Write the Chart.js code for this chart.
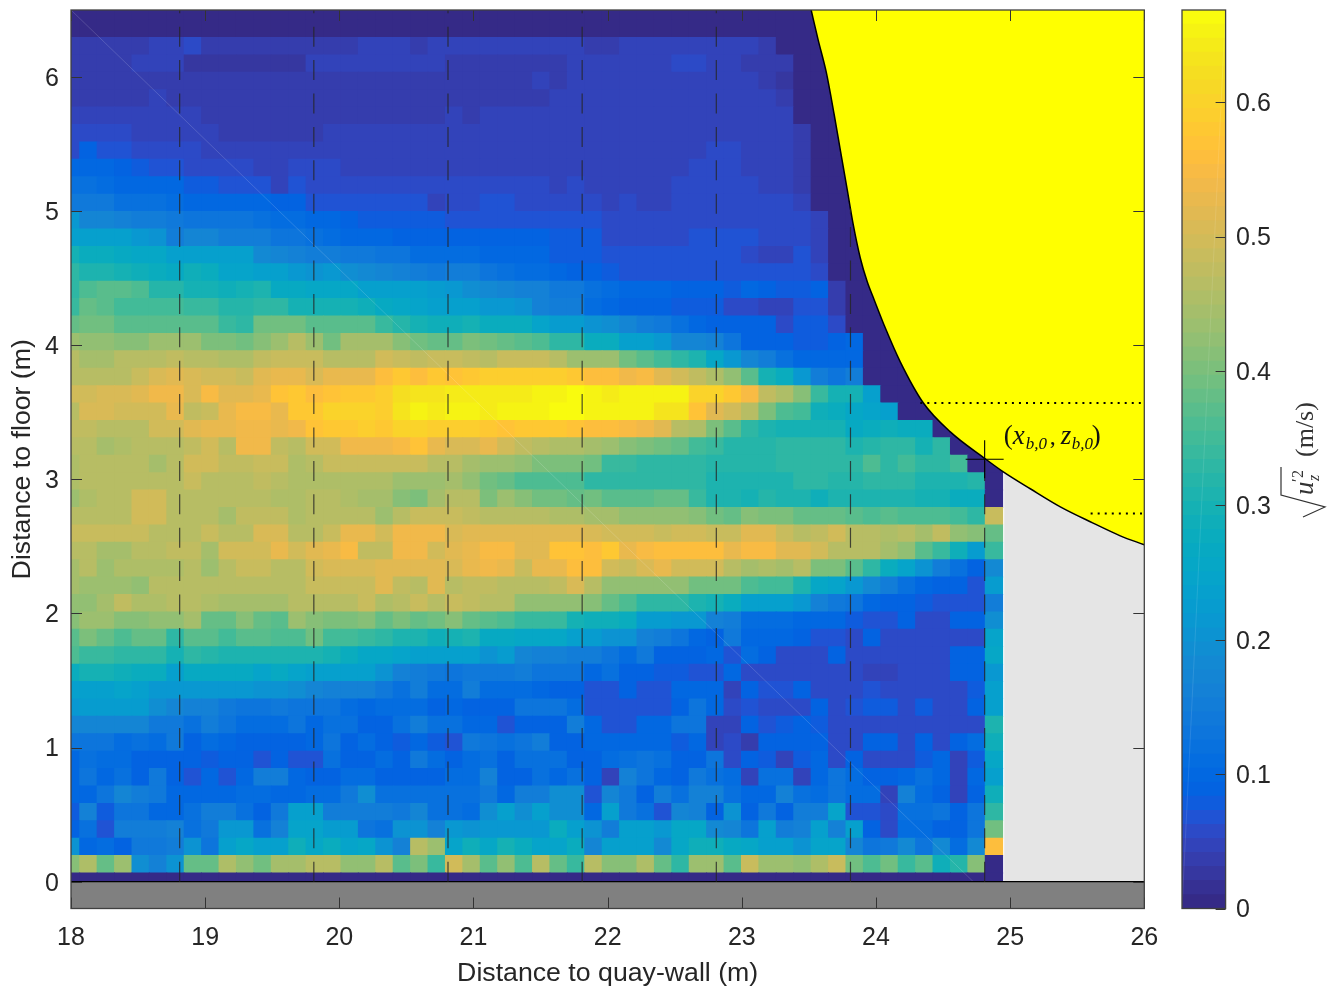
<!DOCTYPE html>
<html><head><meta charset="utf-8">
<style>html,body{margin:0;padding:0;background:#fff;width:1339px;height:989px;overflow:hidden}canvas{position:absolute;top:0}</style>
<script src="https://cdn.jsdelivr.net/npm/chart.js@4/dist/chart.umd.min.js"></script>
</head><body>
<canvas id="main" width="1172" height="989" style="left:0"></canvas>
<canvas id="bar" width="169" height="989" style="left:1170px"></canvas>
<script>
const xTicks=[18,19,20,21,22,23,24,25,26];
const yTicks=[0,1,2,3,4,5,6];
const barTicks=[0,0.1,0.2,0.3,0.4,0.5,0.6];
const xTitle='Distance to quay-wall (m)';
const yTitle='Distance to floor (m)';
const climMax=0.6686;
const cellStep=0.1298;
const xProbe=[18.81,19.81,20.81,21.81,22.81,23.81,24.81];
const probeTop=[6.5,6.5,6.5,6.5,6.5,5.02,3.15];
const breakPoint=[24.81,3.15];
const wallX=[23.517,23.569,23.629,23.689,23.734,23.786,23.831,23.883,23.935,23.987,24.069,24.181,24.352,24.554,24.815,24.949,25.15,25.374,25.597,25.821,26];
const wallZ=[6.5,6.277,6.038,5.717,5.457,5.158,4.897,4.651,4.473,4.338,4.13,3.876,3.571,3.354,3.153,3.056,2.93,2.795,2.684,2.579,2.512];
const dottedA=[[24.33,3.57],[26,3.57]];
const dottedB=[[25.6,2.745],[26,2.745]];
const seam=[[18,6.5],[24.725,0]];
const parula=[[.2081,.1663,.5292],[.2116,.1898,.5777],[.2123,.2138,.6270],[.2081,.2386,.6771],[.1959,.2645,.7279],[.1707,.2919,.7792],[.1253,.3242,.8303],[.0591,.3598,.8683],[.0117,.3875,.8820],[.0060,.4086,.8828],[.0165,.4266,.8786],[.0329,.4430,.8720],[.0498,.4586,.8641],[.0629,.4737,.8554],[.0723,.4887,.8467],[.0779,.5040,.8384],[.0793,.5200,.8312],[.0749,.5375,.8263],[.0641,.5570,.8240],[.0488,.5772,.8228],[.0343,.5966,.8199],[.0265,.6137,.8135],[.0239,.6287,.8038],[.0231,.6418,.7913],[.0228,.6535,.7768],[.0267,.6642,.7607],[.0384,.6743,.7436],[.0590,.6838,.7254],[.0843,.6928,.7062],[.1133,.7015,.6859],[.1453,.7098,.6646],[.1801,.7177,.6424],[.2178,.7250,.6193],[.2586,.7317,.5954],[.3022,.7376,.5712],[.3482,.7424,.5473],[.3953,.7459,.5244],[.4420,.7481,.5033],[.4871,.7491,.4840],[.5300,.7491,.4661],[.5709,.7485,.4494],[.6099,.7473,.4337],[.6473,.7456,.4188],[.6834,.7435,.4044],[.7184,.7411,.3905],[.7525,.7384,.3768],[.7858,.7356,.3633],[.8185,.7327,.3498],[.8507,.7299,.3360],[.8824,.7274,.3217],[.9139,.7258,.3063],[.9450,.7261,.2886],[.9739,.7314,.2666],[.9938,.7455,.2403],[.9990,.7653,.2164],[.9955,.7861,.1967],[.9880,.8066,.1794],[.9789,.8271,.1633],[.9697,.8481,.1475],[.9626,.8705,.1309],[.9589,.8949,.1132],[.9598,.9218,.0948],[.9661,.9514,.0755],[.9763,.9831,.0538]];
// sqrt(u'z^2) in cm/s; first line is the top row (z = 6.49 m), last line the floor row (z = 0)
const heatTopDown=[
[0,0,0,0,0,0,0,0,0,0,0,0,0,0,0,0,0,0,0,0,0,0,0,0,0,0,0,0,0,0,0,0,0,0,0,0,0,0,0,0,0,0,0,0,0,0,0,0,0,0,0,0,0,0],
[0,0,0,0,0,0,0,0,0,0,0,0,0,0,0,0,0,0,0,0,0,0,0,0,0,0,0,0,0,0,0,0,0,0,0,0,0,0,0,0,0,0,0,0,0,0,0,0,0,0,0,0,0,0],
[4,4,4,4,4,5,5,6,4,4, 4,4,4,4,4,4,4,5,5,5, 4,5,5,5,5,5,5,5,5,5, 4,4,5,5,5,5,5,5,5,5, 4,0,0,0,0,0,0,0,0,0, 0,0,0,0],
[4,4,4,4,5,5,5,3,3,3, 3,3,3,3,5,5,5,5,5,5, 5,5,4,4,4,4,4,4,4,5, 5,5,5,5,5,6,6,5,5,4, 4,4,0,0,0,0,0,0,0,0, 0,0,0,0],
[4,4,4,4,4,4,4,4,4,4, 4,4,4,4,4,4,4,4,4,4, 4,4,4,4,4,4,4,5,4,5, 5,5,5,5,5,5,5,5,5,5, 4,3,0,0,0,0,0,0,0,0, 0,0,0,0],
[4,4,4,4,4,5,4,4,4,4, 4,4,4,4,4,4,4,4,4,4, 4,4,4,4,4,4,4,4,5,5, 5,5,5,5,5,5,5,5,5,5, 5,4,0,0,0,0,0,0,0,0, 0,0,0,0],
[5,5,5,5,5,5,5,5,4,4, 4,4,4,4,4,4,4,4,4,4, 4,4,5,4,5,5,5,5,5,5, 5,5,5,5,5,5,5,5,5,5, 5,5,0,0,0,0,0,0,0,0, 0,0,0,0],
[6,6,6,6,5,5,5,5,5,4, 4,4,4,4,4,5,5,5,5,5, 5,5,5,5,5,5,5,5,5,5, 5,5,5,5,5,5,5,5,5,5, 5,5,4,0,0,0,0,0,0,0, 0,0,0,0],
[6,9,7,7,6,6,6,6,5,5, 5,5,5,5,5,5,5,5,5,5, 5,5,5,5,5,5,5,5,5,5, 5,5,5,5,5,5,5,6,6,5, 5,5,4,0,0,0,0,0,0,0, 0,0,0,0],
[10,10,10,9,8,7,7,6,6,6, 6,5,5,6,6,6,5,5,5,5, 5,5,5,5,5,5,5,5,5,5, 5,5,5,5,5,5,6,6,6,5, 5,5,4,0,0,0,0,0,0,0, 0,0,0,0],
[12,12,11,10,10,10,10,8,8,7, 7,7,5,7,6,6,6,6,6,6, 6,6,6,6,6,6,6,6,5,6, 5,5,5,5,5,6,6,6,6,6, 5,5,4,0,0,0,0,0,0,0, 0,0,0,0],
[14,14,14,12,12,12,11,10,10,10, 10,10,9,9,7,7,7,7,7,7, 7,5,6,6,7,7,6,6,6,6, 6,5,6,5,5,6,6,6,6,6, 6,6,5,0,0,0,0,0,0,0, 0,0,0,0],
[21,17,17,16,15,15,14,13,13,13, 13,12,11,11,10,10,9,8,8,8, 8,8,7,7,7,7,7,7,7,7, 7,6,6,6,6,6,6,6,6,6, 6,6,6,5,0,0,0,0,0,0, 0,0,0,0],
[24,24,24,23,21,20,15,17,17,15, 15,15,13,13,12,11,10,10,10,9, 9,9,9,9,9,9,9,9,8,8, 8,6,6,6,6,6,7,7,7,7, 6,6,6,5,0,0,0,0,0,0, 0,0,0,0],
[30,28,28,27,26,26,24,24,24,23, 23,18,17,16,15,15,14,14,13,13, 11,11,11,11,10,10,10,10,8,8, 8,7,7,7,7,7,7,7,7,6, 5,5,7,5,0,0,0,0,0,0, 0,0,0,0],
[33,31,31,30,29,28,27,29,28,25, 25,24,23,21,20,21,19,18,17,16, 15,14,15,15,13,12,11,11,10,9, 9,8,7,7,7,7,7,7,7,7, 7,7,7,6,0,0,0,0,0,0, 0,0,0,0],
[33,36,37,37,36,32,32,30,30,29, 30,31,27,27,26,26,26,24,24,24, 23,22,21,19,18,17,16,16,14,14, 12,11,10,10,10,9,9,9,8,10, 9,8,8,9,4,0,0,0,0,0, 0,0,0,0],
[34,38,37,35,35,35,35,34,34,32, 32,33,33,30,30,30,30,29,27,26, 25,24,24,23,21,21,20,16,15,15, 11,10,9,9,9,8,8,8,6,6, 5,5,7,7,4,0,0,0,0,0, 0,0,0,0],
[38,39,39,37,37,37,37,37,37,34, 33,39,39,39,37,37,37,37,34,32, 30,29,29,30,28,28,28,25,22,22, 20,19,17,15,14,12,10,9,9,9, 9,6,8,8,6,0,0,0,0,0, 0,0,0,0],
[43,42,42,41,41,43,43,43,40,40, 39,41,43,46,43,39,44,44,44,41, 39,38,38,40,39,38,37,36,33,33, 28,28,24,23,21,17,17,16,13,9, 9,9,8,8,9,10,0,0,0,0, 0,0,0,0],
[47,44,44,47,47,47,48,46,46,45, 45,48,49,49,49,47,47,47,50,49, 48,49,49,48,47,49,49,49,46,43, 43,43,39,37,35,33,31,26,21,17, 15,12,10,10,10,10,0,0,0,0, 0,0,0,0],
[47,47,47,47,49,51,52,51,50,50, 49,52,53,53,51,53,53,53,56,58, 56,58,57,58,59,59,59,59,59,58, 56,56,54,55,52,50,48,45,42,37, 30,28,21,15,13,15,0,0,0,0, 0,0,0,0],
[50,50,51,51,52,54,54,51,55,52, 52,53,57,58,56,57,58,58,59,62, 63,63,64,64,64,64,64,65,65,66, 65,64,65,65,65,65,60,60,58,55, 48,45,41,34,30,30,24,0,0,0, 0,0,0,0],
[47,51,51,50,50,50,53,48,49,53, 55,55,53,58,58,60,60,60,59,63, 65,64,65,65,64,65,65,65,66,66, 65,65,65,65,63,63,57,52,50,47, 40,36,35,29,28,26,25,24,0,0, 0,0,0,0],
[48,48,46,46,46,50,50,52,53,53, 54,54,53,54,57,58,58,59,58,60, 60,59,59,59,58,57,58,58,58,57, 56,56,55,54,52,47,45,40,37,33, 31,30,30,30,30,27,28,29,28,28, 0,0,0,0],
[46,46,44,45,47,47,47,48,50,47, 54,54,48,47,50,50,54,54,54,55, 57,53,51,51,53,50,48,47,45,45, 44,43,41,40,39,38,35,34,32,32, 32,33,33,33,33,31,32,33,33,30, 33,0,0,0],
[45,46,46,46,46,44,47,50,50,48, 48,49,49,45,47,49,49,49,49,49, 49,46,47,44,43,43,42,40,40,40, 39,34,34,33,33,33,33,32,32,32, 32,33,33,33,33,33,36,33,35,33, 33,35,0,0],
[45,46,46,46,46,46,46,49,46,46, 46,48,47,45,45,45,45,45,45,43, 43,43,44,42,39,38,36,36,36,36, 33,33,33,33,33,33,33,31,31,31, 31,31,33,33,32,32,33,33,33,31, 31,31,32,0],
[43,45,46,46,50,50,46,47,46,46, 47,47,45,45,47,46,45,44,44,41, 40,44,46,47,40,43,41,39,39,38, 39,37,37,37,38,38,34,31,31,30, 32,31,31,29,31,31,31,31,31,30, 30,28,28,0],
[46,46,46,47,50,50,46,46,46,44, 48,48,48,45,47,47,47,47,43,47, 49,49,49,48,47,47,47,46,45,45, 44,44,42,42,42,42,41,39,38,41, 40,40,38,38,38,37,36,37,36,36, 36,35,33,49],
[49,49,49,49,49,46,46,46,49,46, 47,51,51,46,47,49,53,53,50,54, 54,54,51,52,52,52,52,52,52,52, 51,50,50,50,49,50,50,49,49,52, 52,49,46,48,50,46,46,45,46,44, 48,42,41,38],
[46,46,44,44,46,46,48,48,44,50, 50,50,53,50,52,53,55,48,48,54, 54,50,52,53,55,55,52,52,57,57, 56,58,53,55,56,56,56,56,53,55, 55,52,52,50,47,46,46,44,42,37, 34,29,22,34],
[44,47,43,45,45,45,45,47,43,47, 49,49,47,47,50,51,51,51,52,52, 52,52,51,53,54,53,49,53,53,56, 56,50,49,51,53,50,50,50,46,44, 45,44,46,40,40,37,33,28,25,20, 15,12,9,18],
[44,43,43,43,42,46,46,46,46,47, 47,47,47,47,49,49,49,49,52,48, 46,52,47,48,48,47,47,47,48,51, 47,42,42,42,42,42,39,39,39,36, 35,35,31,26,25,21,18,15,12,10, 9,9,7,22],
[42,42,44,48,45,45,47,47,45,44, 44,44,44,46,46,46,46,49,45,47, 49,46,49,48,47,46,42,42,42,42, 41,38,36,33,33,33,31,30,28,24, 24,24,21,16,14,13,10,9,9,8, 7,7,7,15],
[41,43,43,41,41,42,42,44,38,38, 41,38,37,43,41,40,40,41,38,40, 38,39,41,38,37,36,34,34,34,30, 29,29,28,22,22,21,21,16,15,11, 11,11,10,10,10,8,7,7,9,6, 6,9,9,19],
[37,40,38,36,38,38,33,37,37,35, 37,37,36,36,39,35,35,34,33,31, 31,29,30,31,27,27,26,26,26,23, 22,20,20,16,15,13,10,9,14,10, 10,10,9,7,7,6,9,6,6,6, 6,6,6,25],
[36,34,34,33,33,33,30,33,32,31, 31,31,31,31,31,30,28,26,26,25, 24,23,24,23,20,22,17,16,16,15, 15,13,11,14,9,9,9,10,7,11, 9,6,6,6,9,6,6,6,6,6, 6,9,9,26],
[28,30,30,29,28,28,23,27,27,27, 27,25,27,25,23,23,23,23,20,16, 15,14,13,14,14,14,15,13,13,13, 10,12,9,9,8,8,7,7,10,6, 6,6,6,6,6,6,5,5,6,6, 6,9,9,21],
[24,24,24,25,24,21,21,21,21,21, 21,20,20,19,17,16,16,16,14,12, 15,11,11,15,11,11,11,10,9,9, 7,7,9,7,7,10,10,10,5,9, 7,7,9,6,6,6,7,6,6,6, 6,6,8,24],
[21,22,22,22,22,19,17,16,16,14, 13,13,14,13,13,13,11,10,11,11, 11,9,10,9,9,9,13,13,13,11, 7,7,7,7,7,9,13,10,6,7, 6,6,6,9,6,7,8,8,6,8, 6,6,9,24],
[17,17,17,17,17,14,14,12,15,13, 11,11,11,13,10,12,12,9,9,12, 15,12,12,10,10,7,9,9,9,15, 10,7,7,10,10,13,13,5,5,9, 7,8,9,8,6,6,6,6,6,6, 6,6,6,31],
[13,13,13,11,12,11,14,9,11,10, 9,9,9,9,10,13,9,11,9,8, 10,8,7,14,13,12,13,15,9,9, 10,10,10,10,10,8,10,5,6,4, 9,9,9,9,6,6,9,9,6,9, 6,9,11,29],
[10,12,11,11,9,9,9,9,8,9, 9,7,9,7,7,12,9,9,11,9, 14,11,9,11,12,9,12,12,12,9, 9,11,12,13,12,9,9,13,6,9, 8,5,8,10,6,9,6,6,6,8, 10,5,8,26],
[10,13,10,12,9,14,9,7,10,7, 10,15,15,10,9,9,11,11,9,9, 9,9,11,11,16,9,9,12,10,12, 9,5,16,13,10,9,14,12,11,5, 12,12,5,10,13,11,9,9,10,12, 10,5,10,24],
[10,10,13,17,15,14,10,10,10,10, 11,11,10,10,11,11,14,19,12,12, 12,12,12,12,14,10,15,15,19,19, 7,17,14,9,15,12,16,16,12,10, 10,16,12,11,13,11,11,5,16,11, 9,5,9,29],
[8,16,8,13,13,10,10,12,15,15, 12,9,14,24,24,15,15,15,15,14, 17,12,12,11,19,23,19,24,19,19, 10,24,14,12,7,17,16,9,20,9, 14,9,15,15,25,7,7,6,12,12, 13,9,13,33],
[9,12,7,15,15,15,16,12,14,21, 21,12,16,25,25,22,22,13,12,20, 20,16,21,20,21,21,21,21,28,23, 20,15,24,24,21,26,26,18,17,13, 24,15,16,24,16,23,9,6,11,11, 9,9,13,39],
[20,10,11,9,14,14,15,20,13,24, 26,24,24,29,26,28,25,26,20,16, 46,43,25,29,26,30,28,25,25,28, 17,24,24,24,18,26,29,29,27,26, 24,24,20,25,25,17,13,14,18,13, 18,11,18,56],
[41,45,38,43,19,16,20,38,38,45, 42,39,44,44,46,46,42,42,47,37, 40,34,50,44,37,42,36,47,38,34, 47,41,41,45,38,33,43,43,37,49, 43,43,42,45,49,39,36,39,34,37, 29,32,41,0],
[0,0,0,0,0,0,0,0,0,0,0,0,0,0,0,0,0,0,0,0,0,0,0,0,0,0,0,0,0,0,0,0,0,0,0,0,0,0,0,0,0,0,0,0,0,0,0,0,0,0,0,0,0,0]
];
const INK='#262626', FONT='"Liberation Sans",Arial,sans-serif', SERIF='"Liberation Serif",serif';
function rgb(c){return 'rgb('+c.map(v=>Math.round(v*255)).join(',')+')';}
function colorOf(v){return rgb(parula[Math.max(0,Math.min(63,Math.floor(v/climMax*64)))]);}
const heatPts=[],heatCols=[];
heatTopDown.forEach((row,ri)=>{const r=heatTopDown.length-1-ri;row.forEach((v,c)=>{heatPts.push({x:18+c*cellStep,y:r*cellStep});heatCols.push(colorOf(v/100));});});
const pts=(xs,ys)=>xs.map((x,i)=>({x,y:ys[i]}));
const ln=(p,o)=>Object.assign({data:p,showLine:true,pointRadius:0,tension:0,borderWidth:1,borderColor:'#000',fill:false},o);
const wall=pts(wallX,wallZ);
const greyCurve=[{x:24.955,y:3.052}].concat(wall.filter(p=>p.x>24.955));
const datasets=[
 ln(seam.map(p=>({x:p[0],y:p[1]})),{borderColor:'rgba(255,255,255,.2)',borderWidth:.8,order:9}),
 {data:heatPts,pointStyle:'rect',pointBackgroundColor:heatCols,pointBorderWidth:0,borderWidth:0,showLine:false,order:10,
  pointRadius:ctx=>{const s=ctx.chart.scales.x;return ((s.getPixelForValue(18+cellStep)-s.getPixelForValue(18))+0.9)*Math.SQRT1_2;}},
 ln(greyCurve,{fill:'origin',backgroundColor:'#e5e5e5',borderColor:'rgba(0,0,0,0)',order:8}),
 ln(wall,{fill:'end',backgroundColor:'#ffff00',borderColor:'#000',borderWidth:1.5,cubicInterpolationMode:'monotone',order:7}),
 ln([{x:18,y:0},{x:26,y:0}],{fill:'start',backgroundColor:'#808080',borderColor:'#000',borderWidth:1.2,order:6}),
 ln(dottedA.map(p=>({x:p[0],y:p[1]})),{borderDash:[2,5.05],borderWidth:2,order:3}),
 ln(dottedB.map(p=>({x:p[0],y:p[1]})),{borderDash:[2,5.05],borderWidth:2,order:3}),
 {data:[{x:breakPoint[0],y:breakPoint[1]}],pointStyle:'cross',pointRadius:19,pointBorderColor:'#000',pointBorderWidth:1.1,showLine:false,order:1}
];
xProbe.forEach((x,i)=>datasets.push(ln([{x,y:0},{x,y:probeTop[i]}],{borderColor:'rgba(38,38,38,.82)',borderWidth:1.2,borderDash:[20,13.4],order:4})));

const frame={id:'frame',afterDraw(ch){
 const c=ch.ctx,a=ch.chartArea,X=ch.scales.x,Y=ch.scales.y;
 c.save();c.strokeStyle='#333';c.lineWidth=1;c.beginPath();
 xTicks.forEach(t=>{const p=Math.round(X.getPixelForValue(t))+.5;c.moveTo(p,a.top);c.lineTo(p,a.top+11);c.moveTo(p,a.bottom);c.lineTo(p,a.bottom-11);});
 yTicks.forEach(t=>{const p=Math.round(Y.getPixelForValue(t))+.5;c.moveTo(a.left,p);c.lineTo(a.left+11,p);c.moveTo(a.right,p);c.lineTo(a.right-11,p);});
 c.stroke();c.lineWidth=1.3;c.strokeStyle='#404040';c.strokeRect(a.left,a.top,a.right-a.left,a.bottom-a.top);
 // break-point annotation (x_{b,0}, z_{b,0})
 const bx=X.getPixelForValue(breakPoint[0]),by=Y.getPixelForValue(breakPoint[1]);
 const put=(s,dx,dy,f)=>{c.font=f;c.fillText(s,bx+dx,by+dy);};
 const big='27px '+SERIF,it='italic 27px '+SERIF,sub='italic 17px '+SERIF;
 c.fillStyle='#111';c.textBaseline='alphabetic';c.textAlign='left';
 put('(',19,-15,big);put('x',28,-15,it);put('b,0',41,-10,sub);put(',',65,-15,'24px '+SERIF);
 put('z',76,-15,it);put('b,0',87,-10,sub);put(')',107,-15,big);
 c.restore();
}};
const noPad=s=>{s.paddingTop=0;s.paddingBottom=0;s.paddingLeft=0;s.paddingRight=0;};
// vertical axes: nudge tick labels 2px down so they centre on the inward tick marks
const nudgeLabels=s=>{if(s._nudged)return;s._nudged=true;const o=s._computeLabelItems;s._computeLabelItems=function(ca){const r=o.call(this,ca);r.forEach(i=>{i.options.translation[1]+=2;});return r;};};
new Chart(document.getElementById('main'),{type:'scatter',data:{datasets},plugins:[frame],options:{
 responsive:false,animation:false,devicePixelRatio:1,events:[],
 layout:{autoPadding:false,padding:{left:0,top:10,right:27.7,bottom:0}},
 plugins:{legend:{display:false},tooltip:{enabled:false}},
 scales:{
  x:{type:'linear',min:18,max:26,grid:{display:false,drawTicks:false},border:{display:false},
   afterBuildTicks:s=>{s.ticks=xTicks.map(value=>({value}));},afterFit:s=>{s.height=80.5;noPad(s);},
   ticks:{color:INK,font:{family:FONT,size:25},padding:15,maxRotation:0,autoSkip:false,callback:v=>String(v)},
   title:{display:true,text:xTitle,color:INK,font:{family:FONT,size:26.7},padding:{top:0,bottom:-1}}},
  y:{type:'linear',min:-0.2,max:6.5,grid:{display:false,drawTicks:false},border:{display:false},
   afterBuildTicks:s=>{s.ticks=yTicks.map(value=>({value}));},afterFit:s=>{s.width=71;noPad(s);nudgeLabels(s);},
   ticks:{color:INK,font:{family:FONT,size:25},padding:12,autoSkip:false,callback:v=>String(v)},
   title:{display:true,text:yTitle,color:INK,font:{family:FONT,size:26.7},padding:{top:7,bottom:0}}}
 }}});

const barFrame={id:'barFrame',afterDraw(ch){
 const c=ch.ctx,a=ch.chartArea,Y=ch.scales.y;
 c.save();
 c.strokeStyle='rgba(255,255,255,.14)';c.lineWidth=.8;c.beginPath();c.moveTo(a.right,a.top);c.lineTo(a.left,a.bottom);c.stroke();
 c.strokeStyle='#333';c.lineWidth=1;c.beginPath();
 barTicks.forEach(t=>{const p=Math.round(Y.getPixelForValue(t))+.5;c.moveTo(a.right,p);c.lineTo(a.right-10,p);});c.stroke();
 c.lineWidth=1.3;c.strokeStyle='#404040';c.strokeRect(a.left,a.top,a.right-a.left,a.bottom-a.top);
 // rotated colour-bar label; sqrt(u'_z^2) (m/s)
 const ox=-1170;
 c.strokeStyle='#333';c.lineWidth=1.2;c.beginPath();
 c.moveTo(1281+ox,467);c.lineTo(1281+ox,495);c.lineTo(1325+ox,507);c.lineTo(1303+ox,517);c.stroke();
 c.fillStyle='#333';c.textBaseline='alphabetic';c.textAlign='left';
 const rot=(s,x,y,f)=>{c.save();c.translate(x+ox,y);c.rotate(-Math.PI/2);c.font=f;c.fillText(s,0,0);c.restore();};
 rot('(m/s)',1313,457,'26px '+SERIF);
 rot('u',1313,495,'italic 27px '+SERIF);
 rot('\u2032',1303,482,'17px '+SERIF);
 rot('2',1303,478,'16px '+SERIF);
 rot('z',1319,481,'italic 16px '+SERIF);
 c.restore();
}};
new Chart(document.getElementById('bar'),{type:'bar',
 data:{labels:[''],datasets:parula.map((p,i)=>({data:[(i+1)*climMax/64],backgroundColor:rgb(p),borderWidth:0,barPercentage:1,categoryPercentage:1,grouped:false}))},
 plugins:[barFrame],options:{
 responsive:false,animation:false,devicePixelRatio:1,events:[],
 layout:{autoPadding:false,padding:{left:12,top:10,right:0,bottom:80.5}},
 plugins:{legend:{display:false},tooltip:{enabled:false}},
 scales:{
  x:{display:false},
  y:{position:'right',min:0,max:climMax,grid:{display:false,drawTicks:false},border:{display:false},
   afterBuildTicks:s=>{s.ticks=barTicks.map(value=>({value}));},afterFit:s=>{s.width=113.4;noPad(s);nudgeLabels(s);},
   ticks:{color:INK,font:{family:FONT,size:25},padding:10.5,autoSkip:false,callback:v=>v===0?'0':v.toFixed(1)}}
 }}});
</script>
</body></html>
